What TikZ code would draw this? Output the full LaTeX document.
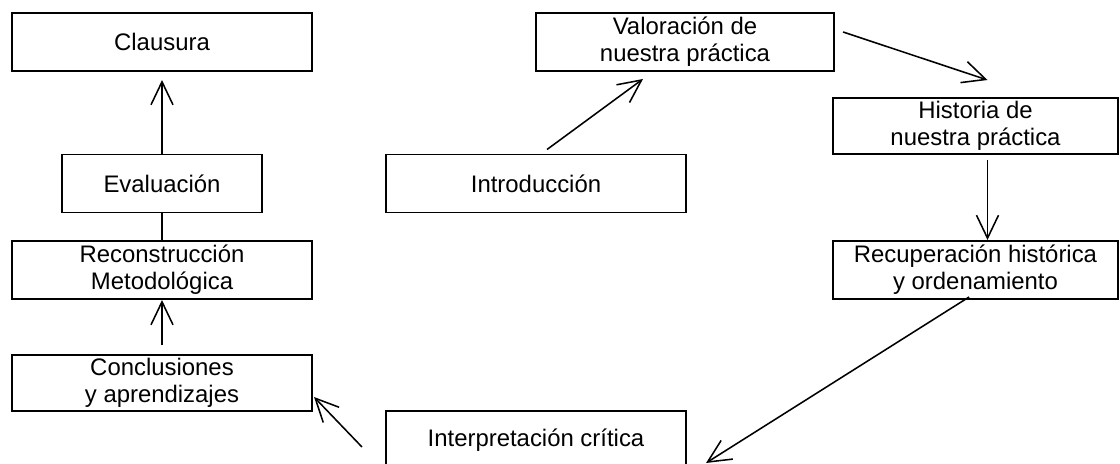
\documentclass[tikz,border=0pt]{standalone}
\usepackage{fontspec}
\setmainfont{Liberation Sans}
\usetikzlibrary{arrows.meta}

\begin{document}
\begin{tikzpicture}[x=0.025cm, y=-0.025cm,
  box/.style={draw, line width=1.4pt, inner sep=0pt, align=center, minimum height=1.45cm, font=\fontsize{17}{19.2}\selectfont},
  wide/.style={box, minimum width=7.5cm},
  arr/.style={line width=1.1pt, -{Straight Barb[length=0.575cm, width=0.55cm, line width=1.1pt]}}]
\useasboundingbox (0,0) rectangle (1120,464); % page
% left column
\node[wide] (clausura) at (162,42) {Clausura};
\node[box, minimum width=5cm] (evaluacion) at (162,183.5) {Evaluación};
\node[wide] (reconstruccion) at (162,270) {Reconstrucción\\Metodológica};
\node[wide, minimum height=1.4cm] (conclusiones) at (162,383) {Conclusiones\\y aprendizajes};
% middle
\node[wide] (introduccion) at (536,183.5) {Introducción};
\node[wide] (interpretacion) at (536,440) {Interpretación crítica};
\node[box, minimum width=7.45cm] (valoracion) at (685,42) {Valoración de\\nuestra práctica};
% right column
\node[box, minimum width=7.125cm, minimum height=1.4cm] (historia) at (975.5,126) {Historia de\\nuestra práctica};
\node[box, minimum width=7.125cm] (recuperacion) at (975.5,270) {Recuperación histórica\\y ordenamiento};
% connectors
\draw[arr] ([xshift=0.275cm,yshift=0.1cm]introduccion.north) -- ([xshift=-1.05cm,yshift=-0.175cm]valoracion.south);
\draw[arr] ([xshift=0.2cm,yshift=0.25cm]valoracion.east) -- ([xshift=0.3cm,yshift=0.425cm]historia.north);
\draw[arr] ([xshift=0.3cm,yshift=-0.125cm]historia.south) -- ([xshift=0.3cm]recuperacion.north);
\draw[arr] ([xshift=-0.16cm,yshift=0.075cm]recuperacion.south) -- ([xshift=0.475cm,yshift=-0.575cm]interpretacion.east);
\draw[arr] ([xshift=-0.575cm,yshift=-0.175cm]interpretacion.west) -- ([xshift=0.025cm,yshift=-0.35cm]conclusiones.east);
\draw[arr] ([yshift=0.225cm]conclusiones.north) -- (reconstruccion.south);
\draw[line width=1.1pt] (evaluacion.south) -- (reconstruccion.north);
\draw[arr] (evaluacion.north) -- ([yshift=-0.2cm]clausura.south);
\end{tikzpicture}
\end{document}
